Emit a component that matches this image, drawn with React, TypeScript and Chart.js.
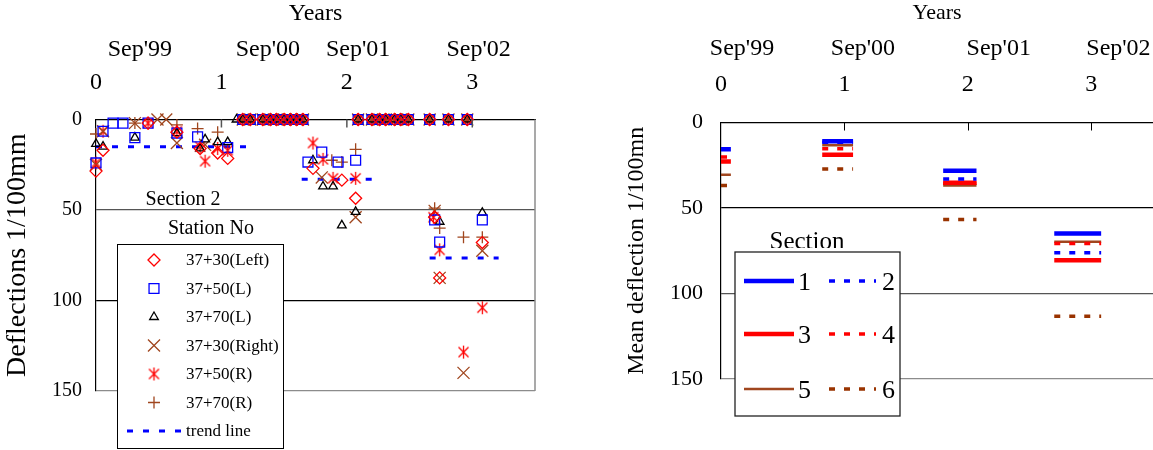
import React, { useEffect, useRef } from 'react';
import { Chart, registerables } from 'chart.js';
import { drawPoint } from 'chart.js/helpers';

Chart.register(...registerables);

const FONT = "'Liberation Serif', 'Times New Roman', Times, serif";
const RED = '#FF0000';
const BLUE = '#0000FF';
const BLACK = '#000000';
const BROWN = '#A0461E';
const BROWN_DARK = '#993300';

// ---------- shared axis data ----------
const yearTicks = [0, 1, 2, 3];
const deflectionTicks = [0, 50, 100, 150];
const sepLabels = ["Sep'99", "Sep'00", "Sep'01", "Sep'02"];
const leftSepPositions = [0.35, 1.37, 2.09, 3.05];
const rightSepPositions = [0.17, 1.15, 2.25, 3.22];

// ---------- left chart data (years, deflection 1/100mm) ----------
const leftSeriesLabels = ['37+30(Left)', '37+50(L)', '37+70(L)', '37+30(Right)', '37+50(R)', '37+70(R)'];
const trendLabel = 'trend line';
const zeroRow1Years = [1.17, 1.23, 1.33, 1.39, 1.44, 1.5, 1.55, 1.6, 1.65];
const zeroRow2Years = [2.09, 2.2, 2.26, 2.31, 2.38, 2.43, 2.49, 2.66, 2.81, 2.96];

const st3730LeftYears = [0, 0.056, 0.415, 0.645, 0.83, 0.97, 1.05, 1.73, 1.96, 2.07, 2.7, 2.74, 3.08];
const st3730LeftValues = [28.5, 17, 2, 7, 16, 18.5, 21.5, 27, 33.5, 43.5, 54, 87.5, 68];

const st3750LYears = [0, 0.056, 0.136, 0.215, 0.31, 0.415, 0.645, 0.81, 1.05, 1.69, 1.8, 1.93, 2.07, 2.7, 2.74, 3.08];
const st3750LValues = [24, 6.5, 2, 2, 10, 2, 7.5, 9.6, 15.5, 23.5, 18, 23.5, 22.5, 55.5, 67.7, 55.5];

const st3770LYears = [0, 0.056, 0.31, 0.645, 0.83, 0.87, 0.97, 1.05, 1.12, 1.73, 1.81, 1.89, 1.96, 2.07, 2.74, 3.08];
const st3770LValues = [13.5, 15, 10, 7.5, 16, 11, 12.5, 12.5, 0, 22.5, 37, 37, 58.5, 51, 56.5, 51.5];

const st3730RightYears = [0, 0.056, 0.31, 0.49, 0.56, 0.645, 0.87, 1.8, 2.07, 2.7, 2.74, 2.93, 3.08];
const st3730RightValues = [25, 6.5, 2, 0, 0, 13, 14, 32, 54, 50.5, 87.5, 140, 72.5];

const st3750RYears = [0, 0.056, 0.415, 0.645, 0.83, 0.87, 0.97, 1.05, 1.73, 1.81, 1.89, 2.07, 2.69, 2.74, 2.93, 3.08];
const st3750RValues = [24, 6.5, 2, 6.5, 15, 23, 16, 17, 13, 22, 32.5, 32.5, 54, 72, 128.5, 104];

const st3770RYears = [0, 0.31, 0.645, 0.81, 0.97, 1.88, 1.96, 2.07, 2.7, 2.74, 2.93, 3.08];
const st3770RValues = [8, 2, 3, 5, 7, 22.5, 23.5, 16.5, 49, 60, 65, 65];

const trendStartYears = [0, 1.64, 2.66];
const trendEndYears = [1.2, 2.22, 3.21];
const trendValues = [15, 33, 76.5];

// ---------- right chart data (mean deflection per section) ----------
const sectionLabels = ['1', '2', '3', '4', '5', '6'];
const meanStartYears = [0, 0.82, 1.8, 2.7];
const meanEndYears = [0.08, 1.07, 2.07, 3.08];
const section1Means = [15.7, 11.0, 28.2, 64.9];
const section2Means = [15.7, 11.5, 33.1, 76.1];
const section3Means = [22.8, 18.8, 35.3, 80.6];
const section4Means = [20.2, 15.3, 35.5, 70.8];
const section5Means = [30.6, 13.3, 36.9, 69.8];
const section6Means = [36.9, 27.2, 56.7, 113.3];

// ---------- helpers ----------
function points(years: number[], values: number[], zeroRows: number[][]) {
  const pts: { x: number; y: number }[] = years.map((x, i) => ({ x, y: values[i] }));
  zeroRows.forEach((row) => row.forEach((x) => pts.push({ x, y: 0 })));
  return pts;
}

function segments(starts: number[], ends: number[], values: number[]) {
  const pts: { x: number; y: number | null }[] = [];
  values.forEach((v, i) => {
    pts.push({ x: starts[i], y: v }, { x: ends[i], y: v }, { x: ends[i], y: null });
  });
  return pts;
}

function makeAsterisk(color: string) {
  const c = document.createElement('canvas');
  c.width = 15;
  c.height = 15;
  const g = c.getContext('2d')!;
  g.strokeStyle = color;
  g.lineWidth = 1.3;
  const m = 7.5;
  const r = 6.5;
  const d = 5;
  g.beginPath();
  g.moveTo(m, m - r);
  g.lineTo(m, m + r);
  g.moveTo(m - d, m - d);
  g.lineTo(m + d, m + d);
  g.moveTo(m + d, m - d);
  g.lineTo(m - d, m + d);
  g.stroke();
  return c;
}

function line(ctx: CanvasRenderingContext2D, x1: number, y1: number, x2: number, y2: number) {
  ctx.beginPath();
  ctx.moveTo(x1, y1);
  ctx.lineTo(x2, y2);
  ctx.stroke();
}

// ---------- plugins ----------
const leftDecor = {
  id: 'leftDecor',
  afterDraw(chart: any) {
    const { ctx, chartArea, scales } = chart;
    ctx.save();
    // right frame
    ctx.strokeStyle = '#8c8c8c';
    ctx.lineWidth = 1.5;
    line(ctx, chartArea.right, chartArea.top, chartArea.right, chartArea.bottom);
    // inward ticks
    ctx.strokeStyle = '#555';
    ctx.lineWidth = 1.5;
    yearTicks.slice(1).forEach((v) => {
      const px = scales.x.getPixelForValue(v);
      line(ctx, px, chartArea.top, px, chartArea.top + 8);
    });
    // texts
    ctx.fillStyle = '#000';
    ctx.font = `20px ${FONT}`;
    ctx.textAlign = 'center';
    ctx.textBaseline = 'middle';
    ctx.fillText('Section 2', 183, 200);
    ctx.fillText('Station No', 211, 229);
    // legend box
    const bx = 117, by = 244, bw = 166, bh = 204;
    ctx.fillStyle = '#fff';
    ctx.fillRect(bx, by, bw, bh);
    ctx.strokeStyle = '#000';
    ctx.lineWidth = 1;
    ctx.strokeRect(bx + 0.5, by + 0.5, bw, bh);
    const rowY = [260, 288.5, 317, 345.5, 374, 402.5, 431];
    chart.data.datasets.forEach((ds: any, i: number) => {
      const y = rowY[i];
      if (ds.showLine) {
        ctx.save();
        ctx.strokeStyle = ds.borderColor;
        ctx.lineWidth = ds.borderWidth;
        ctx.setLineDash(ds.borderDash);
        line(ctx, 127, y, 184, y);
        ctx.restore();
      } else {
        ctx.save();
        ctx.strokeStyle = ds.pointBorderColor;
        ctx.fillStyle = 'rgba(0,0,0,0)';
        ctx.lineWidth = ds.pointBorderWidth;
        drawPoint(ctx, { pointStyle: ds.pointStyle, radius: ds.pointRadius, borderWidth: ds.pointBorderWidth, rotation: 0 } as any, 154, y);
        ctx.restore();
      }
      ctx.fillStyle = '#000';
      ctx.font = `17px ${FONT}`;
      ctx.textAlign = 'left';
      ctx.textBaseline = 'middle';
      ctx.fillText(ds.label, 186, y + 1);
    });
    ctx.restore();
  },
};

const rightDecor = {
  id: 'rightDecor',
  afterDraw(chart: any) {
    const { ctx, chartArea, scales } = chart;
    ctx.save();
    ctx.strokeStyle = '#000';
    ctx.lineWidth = 1;
    yearTicks.slice(1).forEach((v) => {
      const px = Math.round(scales.x.getPixelForValue(v)) + 0.5;
      line(ctx, px, chartArea.top, px, chartArea.top + 8);
    });
    // legend title
    ctx.fillStyle = '#000';
    ctx.font = `25px ${FONT}`;
    ctx.textAlign = 'center';
    ctx.textBaseline = 'alphabetic';
    ctx.fillText('Section', 207, 249);
    // legend box
    const bx = 135, by = 252, bw = 165, bh = 164;
    ctx.fillStyle = '#fff';
    ctx.fillRect(bx, by - 4, bw, bh + 4);
    ctx.strokeStyle = '#222';
    ctx.lineWidth = 1.3;
    ctx.strokeRect(bx, by, bw, bh);
    const rowY = [281, 334, 389];
    const colLine = [[144, 194], [229, 276]];
    const colText = [198, 282];
    chart.data.datasets.forEach((ds: any, i: number) => {
      const r = Math.floor(i / 2);
      const c = i % 2;
      const y = rowY[r];
      ctx.save();
      ctx.strokeStyle = ds.borderColor;
      ctx.lineWidth = ds.borderWidth;
      ctx.setLineDash(ds.borderDash || []);
      ctx.lineCap = 'butt';
      line(ctx, colLine[c][0], y, colLine[c][1], y);
      ctx.restore();
      ctx.fillStyle = '#000';
      ctx.font = `26px ${FONT}`;
      ctx.textAlign = 'left';
      ctx.textBaseline = 'middle';
      ctx.fillText(ds.label, colText[c], y + 2);
    });
    ctx.restore();
  },
};

// ---------- chart configs ----------
function yearAxis(size: number, padding: number, height: number) {
  return {
    type: 'linear',
    position: 'top',
    min: 0,
    max: 3.5,
    weight: 0,
    afterBuildTicks: (s: any) => {
      s.ticks = yearTicks.map((v) => ({ value: v }));
    },
    afterFit: (s: any) => {
      s.height = height;
    },
    ticks: {
      font: { family: FONT, size },
      color: '#000',
      padding,
      autoSkip: false,
      maxRotation: 0,
      callback: (v: any) => String(v),
    },
    grid: { display: false },
    border: { display: true, color: '#000', width: 1 },
  };
}

function sepAxis(positions: number[], size: number, titleSize: number, padding: number, height: number) {
  return {
    type: 'linear',
    position: 'top',
    min: 0,
    max: 3.5,
    weight: 1,
    afterBuildTicks: (s: any) => {
      s.ticks = positions.map((v) => ({ value: v }));
    },
    afterFit: (s: any) => {
      s.height = height;
    },
    ticks: {
      font: { family: FONT, size },
      color: '#000',
      padding,
      autoSkip: false,
      maxRotation: 0,
      callback: (_v: any, i: number) => sepLabels[i],
    },
    grid: { display: false },
    border: { display: false },
    title: {
      display: true,
      text: 'Years',
      font: { family: FONT, size: titleSize, lineHeight: 1 },
      color: '#000',
      padding: { top: 2, bottom: 0 },
    },
  };
}

function deflectionAxis(title: string, width: number, tickSize: number, tickPad: number, titleSize: number, titlePad: number, gridColors: string[]) {
  return {
    type: 'linear',
    position: 'left',
    reverse: true,
    min: 0,
    max: 150,
    afterBuildTicks: (s: any) => {
      s.ticks = deflectionTicks.map((v) => ({ value: v }));
    },
    afterFit: (s: any) => {
      s.width = width;
    },
    ticks: { font: { family: FONT, size: tickSize }, color: '#000', padding: tickPad },
    grid: {
      drawTicks: false,
      color: (c: any) => gridColors[Math.max(0, deflectionTicks.indexOf(c.tick ? c.tick.value : 0))],
      lineWidth: 1.2,
    },
    border: { color: '#000', width: 1.2 },
    title: {
      display: true,
      text: title,
      font: { family: FONT, size: titleSize, lineHeight: 1.2 },
      color: '#000',
      padding: { top: titlePad, bottom: 0 },
    },
  };
}

function markerSet(label: string, data: any[], style: any, color: string, radius: number) {
  return {
    label,
    data,
    pointStyle: style,
    pointRadius: radius,
    pointHoverRadius: radius,
    pointBorderColor: color,
    pointBackgroundColor: 'rgba(0,0,0,0)',
    pointBorderWidth: 1.3,
    borderColor: color,
    backgroundColor: 'rgba(0,0,0,0)',
    showLine: false,
    clip: false,
  };
}

function buildLeft(): any {
  const zero = [zeroRow1Years, zeroRow2Years];
  const asterisk = makeAsterisk(RED);
  return {
    type: 'scatter',
    data: {
      datasets: [
        markerSet(leftSeriesLabels[0], points(st3730LeftYears, st3730LeftValues, zero), 'rectRot', RED, 6),
        markerSet(leftSeriesLabels[1], points(st3750LYears, st3750LValues, zero), 'rect', BLUE, 7),
        markerSet(leftSeriesLabels[2], points(st3770LYears, st3770LValues, zero), 'triangle', BLACK, 5),
        markerSet(leftSeriesLabels[3], points(st3730RightYears, st3730RightValues, zero), 'crossRot', BROWN, 8.5),
        markerSet(leftSeriesLabels[4], points(st3750RYears, st3750RValues, zero), asterisk, RED, 7),
        markerSet(leftSeriesLabels[5], points(st3770RYears, st3770RValues, zero), 'cross', BROWN, 6),
        {
          label: trendLabel,
          data: segments(trendStartYears, trendEndYears, trendValues),
          showLine: true,
          borderColor: BLUE,
          borderWidth: 3,
          borderDash: [6, 10],
          borderCapStyle: 'butt',
          pointRadius: 0,
          spanGaps: false,
          clip: false,
        },
      ],
    },
    options: {
      responsive: false,
      animation: false,
      events: [],
      layout: { padding: { left: 0, right: 25, top: 0, bottom: 59 } },
      plugins: { legend: { display: false }, tooltip: { enabled: false } },
      scales: {
        x: yearAxis(24, 14, 47),
        x2: sepAxis(leftSepPositions, 24, 24, 0, 72.5),
        y: deflectionAxis('Deflections 1/100mm', 96, 20, 14, 28, 1, ['#000', '#555', '#000', '#8c8c8c']),
      },
    },
    plugins: [leftDecor],
  };
}

function meanSet(label: string, values: number[], color: string, width: number, dashed: boolean) {
  return {
    label,
    data: segments(meanStartYears, meanEndYears, values),
    borderColor: color,
    borderWidth: width,
    borderDash: dashed ? [6, 9] : [],
    borderCapStyle: 'butt',
    pointRadius: 0,
    showLine: true,
    spanGaps: false,
    clip: 0,
  };
}

function buildRight(): any {
  return {
    type: 'scatter',
    data: {
      datasets: [
        meanSet(sectionLabels[0], section1Means, BLUE, 4.5, false),
        meanSet(sectionLabels[1], section2Means, BLUE, 3.5, true),
        meanSet(sectionLabels[2], section3Means, RED, 4.5, false),
        meanSet(sectionLabels[3], section4Means, RED, 3.5, true),
        meanSet(sectionLabels[4], section5Means, BROWN, 2.5, false),
        meanSet(sectionLabels[5], section6Means, BROWN_DARK, 3.5, true),
      ],
    },
    options: {
      responsive: false,
      animation: false,
      events: [],
      layout: { padding: { left: 0, right: 0, top: 0, bottom: 71 } },
      plugins: { legend: { display: false }, tooltip: { enabled: false } },
      scales: {
        x: yearAxis(24, 15, 50),
        x2: sepAxis(rightSepPositions, 24, 22, 1, 72.5),
        y: deflectionAxis('Mean deflection 1/100mn', 121, 22, 18, 24, 22, ['#000', '#000', '#555', '#8c8c8c']),
      },
    },
    plugins: [rightDecor],
  };
}

export default function App() {
  const leftRef = useRef<HTMLCanvasElement | null>(null);
  const rightRef = useRef<HTMLCanvasElement | null>(null);

  useEffect(() => {
    const l = new Chart(leftRef.current!, buildLeft());
    const r = new Chart(rightRef.current!, buildRight());
    return () => {
      l.destroy();
      r.destroy();
    };
  }, []);

  return (
    <div style={{ position: 'fixed', left: 0, top: 0, width: 1153, height: 450, overflow: 'hidden', background: '#fff' }}>
      <canvas ref={leftRef} width={560} height={450} style={{ position: 'absolute', left: 0, top: 0, width: 560, height: 450 }} />
      <canvas ref={rightRef} width={553} height={450} style={{ position: 'absolute', left: 600, top: 0, width: 553, height: 450 }} />
    </div>
  );
}
